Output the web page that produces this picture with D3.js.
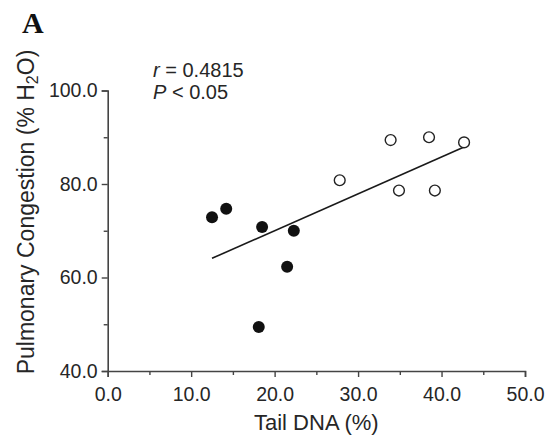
<!DOCTYPE html>
<html>
<head>
<meta charset="utf-8">
<script src="https://cdn.jsdelivr.net/npm/d3@7"></script>
<style>
  html, body { margin: 0; padding: 0; background: #fff; }
  svg { display: block; }
</style>
</head>
<body>
<div id="chart"></div>
<script>
// Tail DNA (%) vs pulmonary congestion (% H2O)
const filledTailDNA = [12.5, 14.2, 18.5, 22.3, 21.5, 18.1];
const filledCongestion = [72.9, 74.7, 70.8, 70.0, 62.3, 49.4];
const openTailDNA = [27.8, 33.9, 38.5, 42.7, 34.9, 39.2];
const openCongestion = [80.8, 89.4, 90.0, 88.9, 78.6, 78.6];

const xMajorTicks = [0, 10, 20, 30, 40, 50];
const xMinorTicks = [5, 15, 25, 35, 45];
const yMajorTicks = [40, 60, 80, 100];
const yMinorTicks = [50, 70, 90];

const panelLabel = "A";
const rValue = "0.4815";
const pValue = "0.05";
const xTitle = "Tail DNA (%)";

const W = 548, H = 441;
const svg = d3.select("#chart").append("svg")
  .attr("width", W).attr("height", H);

const x = d3.scaleLinear().domain([0, 50]).range([107.7, 525]);
const y = d3.scaleLinear().domain([40, 100]).range([371, 90.5]);

const axisColor = "#444";
const textColor = "#262626";
const font = "'Liberation Sans', Arial, sans-serif";

// X axis: major and minor ticks pointing outward
const xAxisG = svg.append("g").attr("transform", `translate(0,${y(40)})`);
xAxisG.call(d3.axisBottom(x).tickValues(xMajorTicks).tickSize(6).tickPadding(10)
  .tickFormat(d3.format(".1f")));
xAxisG.append("g").call(d3.axisBottom(x).tickValues(xMinorTicks).tickSize(4).tickFormat(""))
  .select(".domain").remove();

// Y axis
const yAxisG = svg.append("g").attr("transform", `translate(${x(0)},0)`);
yAxisG.call(d3.axisLeft(y).tickValues(yMajorTicks).tickSize(6).tickPadding(4)
  .tickFormat(d3.format(".1f")));
yAxisG.append("g").call(d3.axisLeft(y).tickValues(yMinorTicks).tickSize(4).tickFormat(""))
  .select(".domain").remove();

svg.selectAll(".domain").attr("stroke", axisColor).attr("stroke-width", 1.6);
svg.selectAll(".tick line").attr("stroke", axisColor).attr("stroke-width", 1.4);
svg.selectAll(".tick text")
  .attr("fill", textColor)
  .style("font-family", font)
  .style("font-size", "19.5px");

// Axis titles
svg.append("text")
  .attr("x", (x(0) + x(50)) / 2)
  .attr("y", 430)
  .attr("text-anchor", "middle")
  .attr("fill", textColor)
  .style("font-family", font)
  .style("font-size", "22px")
  .text(xTitle);

const yTitle = svg.append("text")
  .attr("transform", `translate(34,212) rotate(-90)`)
  .attr("text-anchor", "middle")
  .attr("fill", textColor)
  .style("font-family", font)
  .style("font-size", "23px");
yTitle.append("tspan").text("Pulmonary Congestion (% H");
yTitle.append("tspan").attr("baseline-shift", "-25%").style("font-size", "16px").text("2");
yTitle.append("tspan").text("O)");

// Panel letter
svg.append("text")
  .attr("x", 22).attr("y", 33)
  .attr("fill", "#111")
  .style("font-family", "'Liberation Serif', 'Times New Roman', serif")
  .style("font-weight", "bold")
  .style("font-size", "30px")
  .text(panelLabel);

// Correlation statistics
const stat1 = svg.append("text").attr("x", 153).attr("y", 77)
  .attr("fill", textColor).style("font-family", font).style("font-size", "20px")
  .attr("xml:space", "preserve");
stat1.append("tspan").style("font-style", "italic").text("r");
stat1.append("tspan").text(" = " + rValue);

const stat2 = svg.append("text").attr("x", 153).attr("y", 99)
  .attr("fill", textColor).style("font-family", font).style("font-size", "20px");
stat2.append("tspan").style("font-style", "italic").text("P");
stat2.append("tspan").text(" < " + pValue);

// Least-squares fit across all points
const allX = filledTailDNA.concat(openTailDNA);
const allY = filledCongestion.concat(openCongestion);
const mx = d3.mean(allX), my = d3.mean(allY);
const slope = d3.sum(allX, (v, i) => (v - mx) * (allY[i] - my)) /
              d3.sum(allX, v => (v - mx) * (v - mx));
const intercept = my - slope * mx;
const [x0, x1] = d3.extent(allX);

svg.append("line")
  .attr("x1", x(x0)).attr("y1", y(intercept + slope * x0))
  .attr("x2", x(x1)).attr("y2", y(intercept + slope * x1))
  .attr("stroke", "#1a1a1a").attr("stroke-width", 1.6);

// Points
const filledPts = filledTailDNA.map((v, i) => [v, filledCongestion[i]]);
const openPts = openTailDNA.map((v, i) => [v, openCongestion[i]]);

svg.append("g").selectAll("circle").data(filledPts).join("circle")
  .attr("cx", d => x(d[0])).attr("cy", d => y(d[1]))
  .attr("r", 6).attr("fill", "#111");

svg.append("g").selectAll("circle").data(openPts).join("circle")
  .attr("cx", d => x(d[0])).attr("cy", d => y(d[1]))
  .attr("r", 5.4).attr("fill", "#fff")
  .attr("stroke", "#222").attr("stroke-width", 1.4);
</script>
</body>
</html>
